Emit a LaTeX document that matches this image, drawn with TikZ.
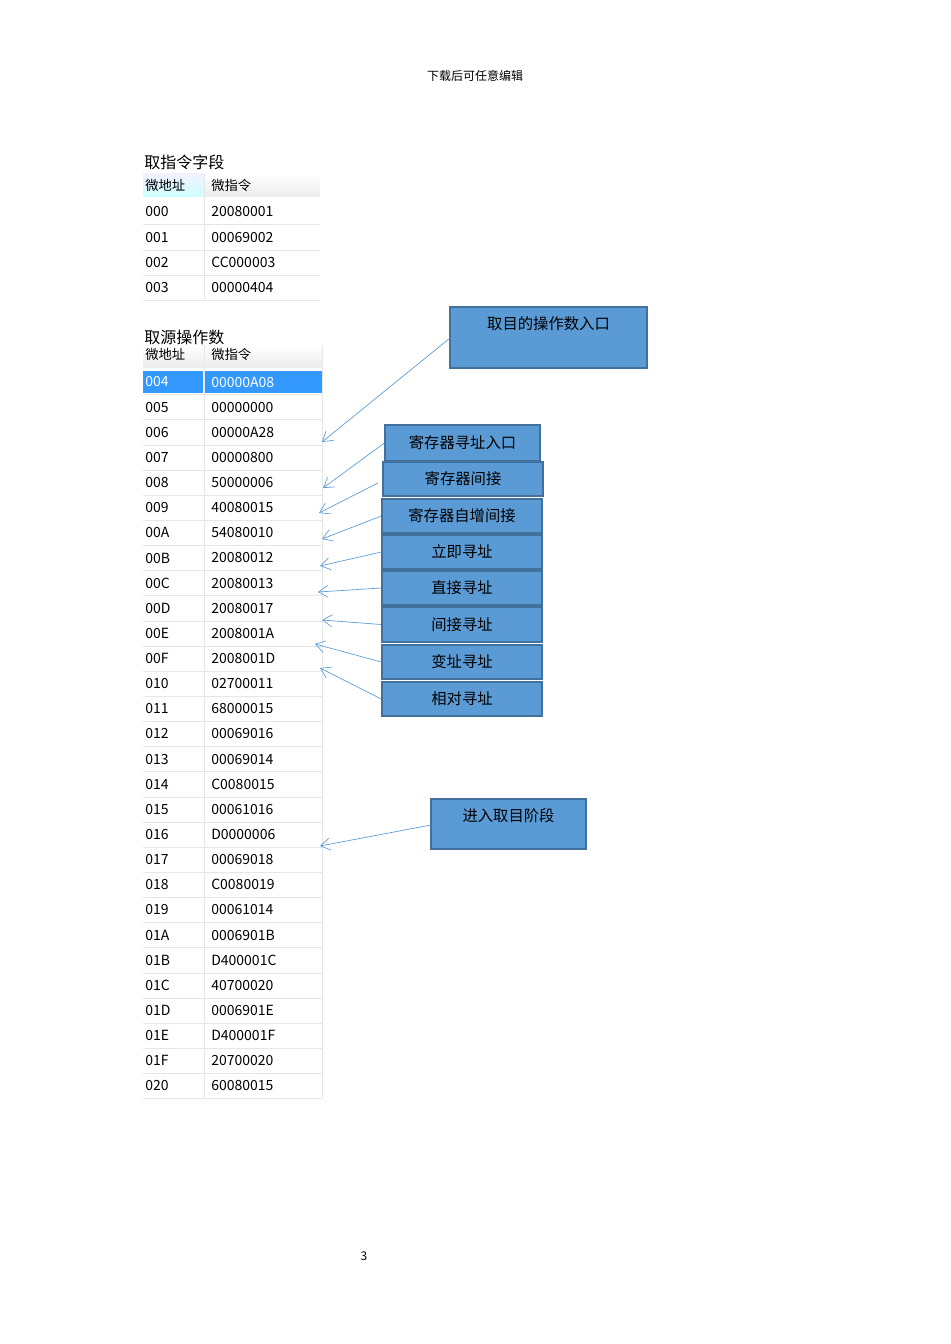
\documentclass[tikz,border=0pt]{standalone}
\usepackage{fontspec}
\setmainfont{Noto Sans CJK SC}
\newfontfamily\cjk{Noto Sans CJK SC}
\usetikzlibrary{arrows.meta}
\definecolor{boxfill}{HTML}{5B9BD5}
\definecolor{boxline}{HTML}{41719C}
\definecolor{arr}{HTML}{5B9BD5}
\definecolor{sel}{HTML}{3399FF}
\definecolor{grid}{HTML}{E6E6E6}
\tikzset{
  bx/.style={draw=boxline,line width=1.2pt,fill=boxfill,minimum width=#1,inner sep=0pt,font=\fontsize{11.5}{12}\selectfont},
  cell/.style={anchor=west,inner sep=0pt,font=\fontsize{10.5}{12}\selectfont},
  ttl/.style={anchor=west,inner sep=0pt,font=\fontsize{12}{13}\selectfont},
  ar/.style={draw=arr,line width=0.5pt,-{Straight Barb[length=7pt,width=9pt,line width=0.5pt]}}
}
\begin{document}
\begin{tikzpicture}[x=0.75pt,y=-0.75pt]
\useasboundingbox (0,0) rectangle (950,1344);
\fill[white] (0,0) rectangle (950,1344);
\node[inner sep=0pt,font=\fontsize{9}{10}\selectfont] (hdr) at (475,76) {下载后可任意编辑};
\node[inner sep=0pt,font=\fontsize{9}{10}\selectfont] (pg) at (364,1256) {3};
% table 1
\node[ttl] (t1) at (144,162) {取指令字段};
\shade[top color=white,bottom color=gray!15] (205,174) rectangle (320,197);
\shade[top color=blue!5,bottom color=cyan!20] (143,174) rectangle (204,197);
\draw[grid] (204,174) -- (204,300);
\node[cell,font=\fontsize{10}{12}\selectfont] (h1a) at (145,185) {微地址};
\node[cell,font=\fontsize{10}{12}\selectfont] (h1b) at (211,185) {微指令};
\foreach \a/\b [count=\i from 0] in {000/20080001,001/00069002,002/CC000003,003/00000404}{
  \pgfmathsetmacro\yy{212+25.3*\i}
  \draw[grid] (143,\yy+12.6) -- (320,\yy+12.6);
  \node[cell] (r1a\i) at (145,\yy) {\a};
  \node[cell] (r1b\i) at (211,\yy) {\b};
}
% table 2
\node[ttl] (t2) at (144,337) {取源操作数};
\shade[top color=white,bottom color=gray!15] (143,345) rectangle (322,367);
\fill[sel] (143,371) rectangle (322,393);
\draw[white,line width=1pt] (204,371) -- (204,393);
\draw[grid] (204,345) -- (204,1098);
\draw[grid] (322,345) -- (322,1098);
\node[cell,font=\fontsize{10}{12}\selectfont] (h2a) at (145,354) {微地址};
\node[cell,font=\fontsize{10}{12}\selectfont] (h2b) at (211,354) {微指令};
\foreach \a/\b [count=\i from 0] in {004/00000A08,005/00000000,006/00000A28,007/00000800,008/50000006,009/40080015,00A/54080010,00B/20080012,00C/20080013,00D/20080017,00E/2008001A,00F/2008001D,010/02700011,011/68000015,012/00069016,013/00069014,014/C0080015,015/00061016,016/D0000006,017/00069018,018/C0080019,019/00061014,01A/0006901B,01B/D400001C,01C/40700020,01D/0006901E,01E/D400001F,01F/20700020,020/60080015}{
  \pgfmathsetmacro\yy{382+25.14*\i}
  \draw[grid] (143,\yy+12.6) -- (322,\yy+12.6);
  \ifnum\i=0
    \node[cell,text=white] (r2a\i) at (145,\yy) {\a};
    \node[cell,text=white] (r2b\i) at (211,\yy) {\b};
  \else
    \node[cell] (r2a\i) at (145,\yy) {\a};
    \node[cell] (r2b\i) at (211,\yy) {\b};
  \fi
}
% boxes
\draw[boxline,line width=1.2pt,fill=boxfill] (450,307) rectangle (647,368);
\node[inner sep=0pt,font=\fontsize{11.5}{12}\selectfont] (b0) at (548.5,324) {取目的操作数入口};
\coordinate (b0w) at (450,338);
\node[bx=116pt,minimum height=27pt] (b1) at (462.5,443) {寄存器寻址入口};
\node[bx=120pt,minimum height=25.5pt] (b2) at (463,479) {寄存器间接};
\node[bx=120pt,minimum height=25.5pt] (b3) at (462,516) {寄存器自增间接};
\node[bx=120pt,minimum height=25.5pt] (b4) at (462,552) {立即寻址};
\node[bx=120pt,minimum height=25.5pt] (b5) at (462,588) {直接寻址};
\node[bx=120pt,minimum height=26pt] (b6) at (462,624.5) {间接寻址};
\node[bx=120pt,minimum height=25.5pt] (b7) at (462,662) {变址寻址};
\node[bx=120pt,minimum height=25.5pt] (b8) at (462,699) {相对寻址};
\draw[boxline,line width=1.2pt,fill=boxfill] (431,799) rectangle (586,849);
\node[inner sep=0pt,font=\fontsize{11.5}{12}\selectfont] (b9) at (508.5,816) {进入取目阶段};
\coordinate (b9w) at (431,825);
% arrow targets
\coordinate (e0) at (322,442);
\coordinate (e1) at (323,488);
\coordinate (e2) at (319,513);
\coordinate (e3) at (322,539);
\coordinate (e4) at (320,566);
\coordinate (e5) at (318,592);
\coordinate (e6) at (322,620);
\coordinate (e7) at (315,644);
\coordinate (e8) at (320,668);
\coordinate (e9) at (320,846);
\coordinate (s2) at (378,483);
\draw[ar] (b0w) -- (e0);
\draw[ar] (b1.west) -- (e1);
\draw[ar] (s2) -- (e2);
\draw[ar] (b3.west) -- (e3);
\draw[ar] (b4.west) -- (e4);
\draw[ar] (b5.west) -- (e5);
\draw[ar] (b6.west) -- (e6);
\draw[ar] (b7.west) -- (e7);
\draw[ar] (b8.west) -- (e8);
\draw[ar] (b9w) -- (e9);
\end{tikzpicture}
\end{document}
